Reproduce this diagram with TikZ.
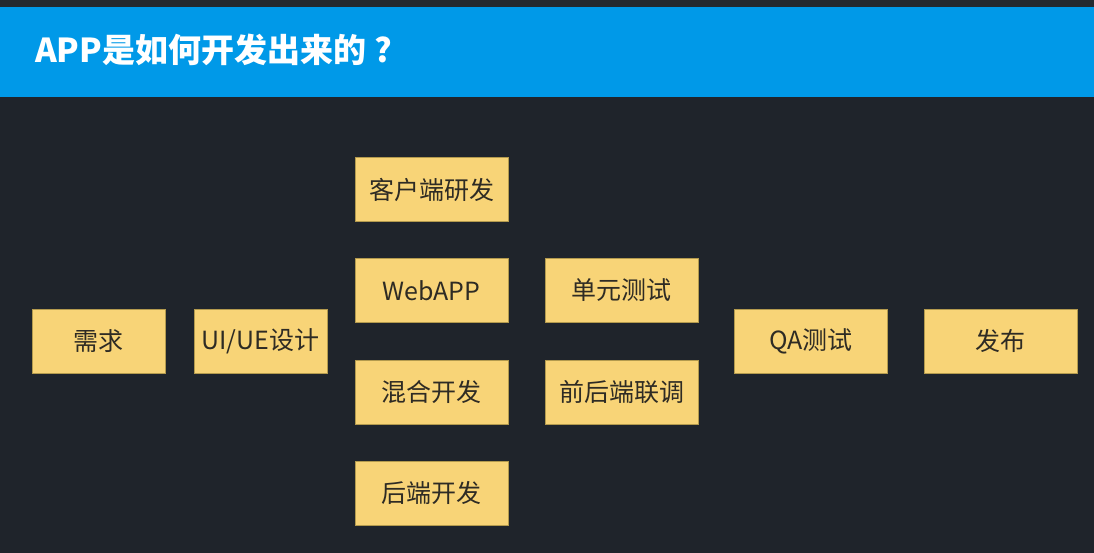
\documentclass[tikz,border=0pt]{standalone}
\usepackage{fontspec}
\usepackage{tikz}
\usetikzlibrary{positioning}
\newfontfamily\cjk{Noto Sans CJK SC}
\definecolor{bgdark}{HTML}{1F242B}
\definecolor{topstrip}{HTML}{24292F}
\definecolor{headblue}{HTML}{0099E8}
\definecolor{boxyellow}{HTML}{F8D477}
\definecolor{boxline}{HTML}{B39A4E}
\definecolor{boxtext}{HTML}{2E2B24}

\begin{document}
\begin{tikzpicture}[x=1pt, y=1pt,
      stage/.style={fill=boxyellow, draw=boxline, line width=0.8pt,
        minimum height=64pt, text=boxtext, font=\cjk\fontsize{25}{29}\selectfont,
        inner sep=0pt},
      short/.style={stage, minimum width=133pt},
      wide/.style={stage, minimum width=153pt}]
    \useasboundingbox (0,0) rectangle (1094,553);
    \fill[bgdark] (0,0) rectangle (1094,553);
    \fill[topstrip] (0,546) rectangle (1094,553);
    \fill[headblue] (0,456) rectangle (1094,546);
    \node (TITLE) [anchor=west, text=white, inner sep=0pt,
      font=\cjk\bfseries\fontsize{33}{38}\selectfont] at (35,503) {APP是如何开发出来的\hspace{8pt}?};
    \node (REQ) [short] at (98.5,212) {需求};
    \node (DESIGN) [short] at (260.5,212) {UI/UE设计};
    \node (CLIENT) [wide] at (431.5,363.5) {客户端研发};
    \node (WEBAPP) [wide] at (431.5,262.5) {WebAPP};
    \node (HYBRID) [wide] at (431.5,161) {混合开发};
    \node (BACKEND) [wide] at (431.5,60) {后端开发};
    \node (UNIT) [wide] at (621.5,262.5) {单元测试};
    \node (JOINT) [wide] at (621.5,161) {前后端联调};
    \node (QA) [wide] at (811,212) {QA测试};
    \node (RELEASE) [wide] at (1000.5,212) {发布};
  \end{tikzpicture}
\end{document}
